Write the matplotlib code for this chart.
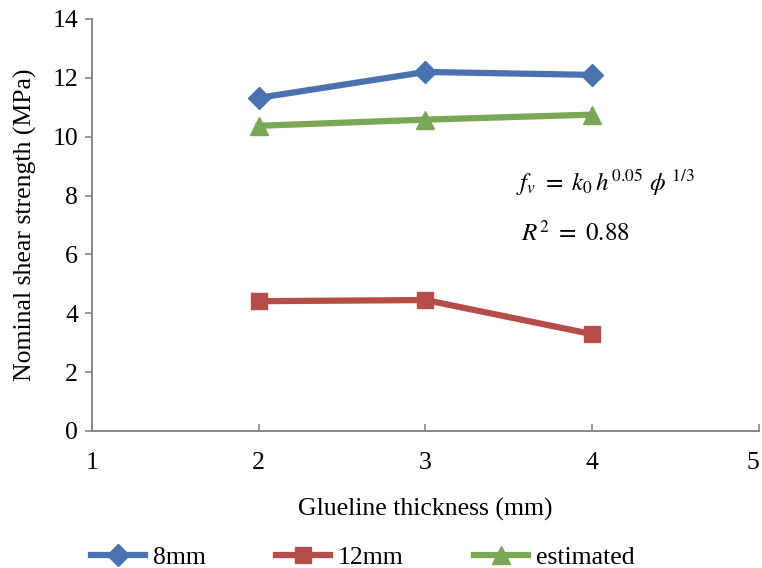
import numpy as np
import matplotlib.pyplot as plt

plt.rcParams['font.family'] = ['Liberation Serif', 'DejaVu Serif']
plt.rcParams['mathtext.fontset'] = 'stix'

thickness = [2, 3, 4]
strength_8mm = [11.32, 12.2, 12.1]
strength_12mm = [4.41, 4.45, 3.29]
strength_est = [10.37, 10.58, 10.75]

x_ticks = [1, 2, 3, 4, 5]
y_ticks = [0, 2, 4, 6, 8, 10, 12, 14]

fig = plt.figure(figsize=(7.62, 5.68), dpi=100)
ax = fig.add_axes([0.1207, 0.2412, 0.8753, 0.7254])

ax.plot(thickness, strength_8mm, '-', color='#4a72b0', marker='D', linewidth=4.5, markersize=11, label='8mm')
ax.plot(thickness, strength_12mm, '-', color='#b54d48', marker='s', linewidth=4.5, markersize=12, label='12mm')
ax.plot(thickness, strength_est, '-', color='#7aa756', marker='^', linewidth=4.5, markersize=13, label='estimated')

ax.set_xlim(1, 5)
ax.set_ylim(0, 14)
ax.set_xticks(x_ticks)
ax.set_yticks(y_ticks)
ax.tick_params(axis='both', labelsize=18.5, length=5, width=1.2, color='#888888')
ax.tick_params(axis='x', direction='in', pad=15)
ax.tick_params(axis='y', direction='out', pad=5)
ax.get_xticklabels()[-1].set_horizontalalignment('right')
ax.spines['top'].set_visible(False)
ax.spines['right'].set_visible(False)
for s in ['left', 'bottom']:
    ax.spines[s].set_color('#888888')
    ax.spines[s].set_linewidth(1.4)

ax.set_xlabel('Glueline thickness (mm)', fontsize=18.5, labelpad=17)
ax.set_ylabel('Nominal shear strength (MPa)', fontsize=18.5, labelpad=11)

ax.text(3.54, 8.16, r'$f_v\ =\ k_0\,h^{\mathrm{0.05}}\ \phi^{\ \mathrm{1/3}}$', fontsize=18)
ax.text(3.57, 6.46, r'$R^{\mathrm{2}}\ =\ \mathrm{0.88}$', fontsize=18)

fig.legend(loc='lower left', bbox_to_anchor=(0.116, -0.007), ncol=3, fontsize=18.5,
           frameon=False, handlelength=2.1, columnspacing=2.75, handletextpad=0.3,
           borderpad=0.1, borderaxespad=0)

fig.savefig('out.png', dpi=100)
